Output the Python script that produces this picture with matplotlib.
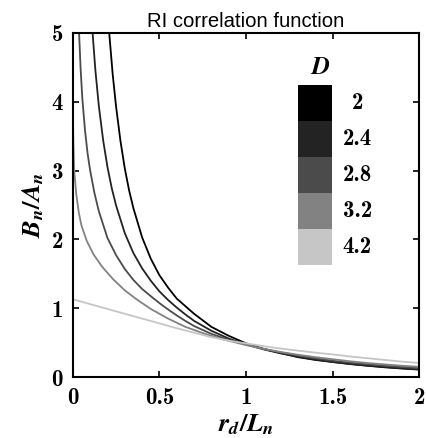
import matplotlib
matplotlib.use("Agg")
import matplotlib.pyplot as plt
from matplotlib.patches import Rectangle

# ==========================================
# DATA (dibaca dari gambar referensi)
# ==========================================
d_values = ["2", "2.4", "2.8", "3.2", "4.2"]
gray_levels = ["#000000", "#232323", "#4b4b4b", "#828282", "#c6c6c6"]

# D = 2
x_d20 = [0.21, 0.23, 0.25, 0.275, 0.30, 0.325, 0.35, 0.40, 0.45, 0.50, 0.55, 0.60, 0.70, 0.80, 0.90,
         1.0, 1.1, 1.2, 1.3, 1.4, 1.5, 1.6, 1.7, 1.8, 1.9, 2.0]
y_d20 = [5.0, 4.40, 3.92, 3.43, 3.03, 2.71, 2.45, 2.03, 1.72, 1.48, 1.30, 1.14, 0.92, 0.73, 0.60,
         0.49, 0.41, 0.35, 0.29, 0.25, 0.22, 0.19, 0.165, 0.143, 0.125, 0.109]

# D = 2.4
x_d24 = [0.114, 0.13, 0.15, 0.175, 0.20, 0.225, 0.25, 0.30, 0.35, 0.40, 0.45, 0.50, 0.55, 0.60, 0.65,
         0.70, 0.80, 0.90, 1.0, 1.1, 1.2, 1.3, 1.4, 1.5, 1.6, 1.7, 1.8, 1.9, 2.0]
y_d24 = [5.0, 4.46, 3.94, 3.44, 3.05, 2.74, 2.49, 2.09, 1.80, 1.58, 1.40, 1.245, 1.12, 1.01, 0.91,
         0.817, 0.673, 0.56, 0.475, 0.404, 0.345, 0.296, 0.255, 0.22, 0.192, 0.168, 0.147, 0.129, 0.1135]

# D = 2.8
x_d28 = [0.036, 0.045, 0.055, 0.07, 0.085, 0.10, 0.125, 0.15, 0.20, 0.25, 0.30, 0.35, 0.40, 0.45,
         0.50, 0.55, 0.60, 0.65, 0.70, 0.80, 0.90, 1.0, 1.1, 1.2, 1.3, 1.4, 1.5, 1.6, 1.7, 1.8, 1.9, 2.0]
y_d28 = [5.0, 4.47, 4.04, 3.59, 3.25, 3.0, 2.67, 2.41, 2.02, 1.77, 1.57, 1.41, 1.28, 1.176,
         1.075, 0.982, 0.896, 0.816, 0.742, 0.628, 0.542, 0.475, 0.412, 0.358, 0.312, 0.273, 0.238,
         0.211, 0.186, 0.165, 0.147, 0.130]

# D = 3.2
x_d32 = [0.0, 0.003, 0.008, 0.02, 0.035, 0.05, 0.08, 0.12, 0.17, 0.233, 0.30, 0.368, 0.45, 0.55,
         0.65, 0.75, 0.85, 1.0, 1.1, 1.2, 1.3, 1.4, 1.5, 1.6, 1.7, 1.8, 1.9, 2.0]
y_d32 = [3.85, 3.4, 3.0, 2.65, 2.38, 2.2, 1.98, 1.78, 1.60, 1.42, 1.26, 1.13, 0.99, 0.85,
         0.73, 0.64, 0.56, 0.465, 0.41, 0.365, 0.325, 0.29, 0.26, 0.23, 0.205, 0.185, 0.165, 0.15]

# D = 4.2
x_d42 = [0.0, 0.1, 0.2, 0.3, 0.4, 0.5, 0.6, 0.7, 0.8, 0.9, 1.0, 1.1, 1.2, 1.3, 1.4, 1.5, 1.6, 1.7,
         1.8, 1.9, 2.0]
y_d42 = [1.13, 1.06, 0.99, 0.92, 0.85, 0.78, 0.71, 0.645, 0.58, 0.53, 0.49, 0.45, 0.415, 0.385,
         0.355, 0.33, 0.30, 0.275, 0.25, 0.225, 0.205]

x_ticks = [0, 0.5, 1, 1.5, 2]
x_tick_labels = ["0", "0.5", "1", "1.5", "2"]
y_ticks = [0, 1, 2, 3, 4, 5]
y_tick_labels = ["0", "1", "2", "3", "4", "5"]

series_x = [x_d20, x_d24, x_d28, x_d32, x_d42]
series_y = [y_d20, y_d24, y_d28, y_d32, y_d42]

# ==========================================
# SETTING FONT
# ==========================================
plt.rcParams['mathtext.fontset'] = 'custom'
plt.rcParams['mathtext.it'] = 'STIXGeneral:italic:bold'
plt.rcParams['mathtext.rm'] = 'STIXGeneral:bold'
plt.rcParams['mathtext.bf'] = 'STIXGeneral:bold'

fig = plt.figure(figsize=(4.26, 4.38), dpi=100)
ax = fig.add_axes([0.171, 0.139, 0.813, 0.786])

for xs, ys, col in zip(series_x, series_y, gray_levels):
    ax.plot(xs, ys, color=col, linewidth=1.3)

ax.set_xlim(0, 2)
ax.set_ylim(0, 5)
ax.set_xticks(x_ticks)
ax.set_xticklabels(x_tick_labels, family='cmb10', fontsize=16.5)
ax.set_yticks(y_ticks)
ax.set_yticklabels(y_tick_labels, family='cmb10', fontsize=16.5)
ax.tick_params(direction='in', length=4, width=1.2, top=True, right=True, pad=7)
for sp in ax.spines.values():
    sp.set_linewidth(1.5)

ax.set_title("RI correlation function", family='Liberation Sans', fontsize=14.6, pad=4)
ax.set_xlabel(r'$r_d/L_n$', fontsize=19, labelpad=2)
ax.set_ylabel(r'$B_n/A_n$', fontsize=19, labelpad=4)

# legenda berbentuk colorbar (kotak abu-abu)
box_left, box_w = 0.650, 0.099
box_top, box_h = 0.849, 0.1047
for i, (lab, col) in enumerate(zip(d_values, gray_levels)):
    y0 = box_top - (i + 1) * box_h
    ax.add_patch(Rectangle((box_left, y0), box_w, box_h, transform=ax.transAxes,
                           facecolor=col, edgecolor='none'))
    ax.text(0.821, y0 + box_h / 2, lab, transform=ax.transAxes, family='cmb10',
            fontsize=16.5, ha='center', va='center')
ax.text(0.714, 0.901, r'$D$', transform=ax.transAxes, fontsize=18, ha='center', va='center')

fig.savefig("out.png", dpi=100)
